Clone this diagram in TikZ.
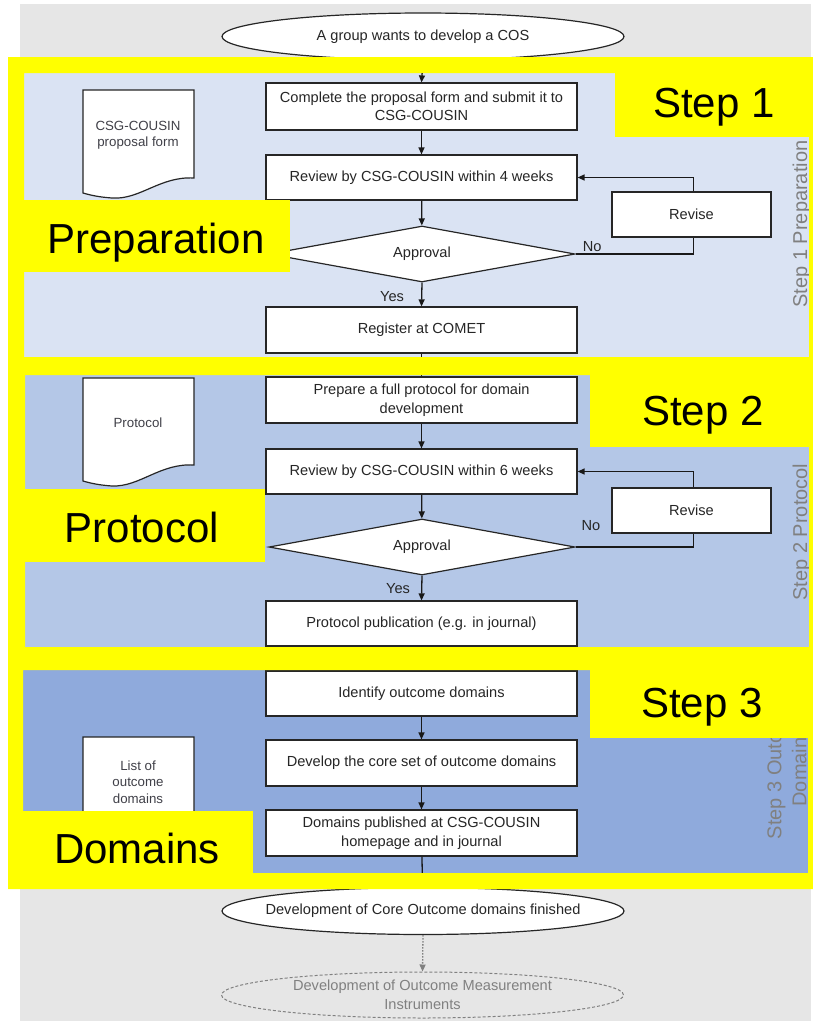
\documentclass[tikz,border=0pt]{standalone}
\usepackage{fontspec}
\setmainfont{Liberation Sans}
\usetikzlibrary{shapes.geometric,arrows.meta}
\definecolor{bgGray}{HTML}{E6E6E6}
\definecolor{panelA}{HTML}{DAE3F3}
\definecolor{panelB}{HTML}{B4C7E7}
\definecolor{panelC}{HTML}{8FAADC}
\definecolor{hl}{HTML}{FFFF00}
\definecolor{txtDark}{HTML}{262626}
\definecolor{docTxt}{HTML}{404048}
\definecolor{sideTxt}{HTML}{808080}
\newcommand{\bxfnt}{\fontsize{14.6}{18.5}\selectfont}
\begin{document}
\begin{tikzpicture}[x=1pt,y=-1pt,
  every node/.style={inner sep=0pt},
  procbox/.style={draw=black!85, line width=1.2pt, fill=white, minimum width=311pt, minimum height=46pt, align=center, font=\bxfnt, text=txtDark},
  decision/.style={diamond, aspect=5.46, draw=black!85, line width=1.2pt, fill=white, minimum width=306pt, minimum height=56pt, font=\bxfnt, text=txtDark},
  terminal/.style={ellipse, draw=black!85, line width=1.2pt, fill=white, minimum width=402pt, minimum height=47pt, align=center, font=\bxfnt, text=txtDark},
  future/.style={ellipse, draw=sideTxt, line width=1pt, dash pattern=on 3pt off 2pt, minimum width=402pt, minimum height=46pt, align=center, font=\bxfnt, text=sideTxt},
  docshape/.style={draw=black!85, line width=1.2pt, fill=white},
  doctext/.style={font=\fontsize{13.3}{16.3}\selectfont, text=docTxt, align=center},
  arr/.style={line width=1.3pt, draw=black!90, -{Triangle[length=7pt,width=6pt]}},
  loopline/.style={line width=1.3pt, draw=black!90, -{Triangle[length=7pt,width=6pt]}},
  dotarr/.style={line width=1.3pt, draw=sideTxt, dash pattern=on 1.5pt off 1.5pt, -{Triangle[length=7pt,width=6pt]}},
  biglabel/.style={font=\fontsize{42}{48}\selectfont, text=black},
  sidelabel/.style={font=\fontsize{20}{25}\selectfont, text=sideTxt, rotate=90, align=center},
  flowlabel/.style={font=\bxfnt, text=txtDark}
]
\useasboundingbox (0,0) rectangle (813,1021);
% background
\fill[bgGray] (20,4) rectangle (811,1021);
% panels
\fill[panelA] (24,73) rectangle (809,357);
\fill[panelB] (25,375) rectangle (809,647);
\fill[panelC] (23,670) rectangle (808,873);

% side labels (partly hidden)
\node[sidelabel, anchor=base] (side1) at (807,224) {Step 1 Preparation};
\node[sidelabel, anchor=base] (side2) at (807,532) {Step 2 Protocol};
\node[sidelabel] (side3) at (787,767) {Step 3 Outcome\\Domains};

% documents
\path[docshape] (83,90) -- (194,90) -- (194,178) .. controls (160,176) and (140,200) .. (112,198) .. controls (98,197) and (90,195) .. (83,193) -- cycle;
\node[doctext] (doc1) at (138,135.5) {CSG-COUSIN\\proposal form};
\path[docshape] (83,378) -- (194,378) -- (194,465) .. controls (160,463) and (140,487) .. (112,486) .. controls (98,485) and (90,483) .. (83,481) -- cycle;
\node[doctext] (doc2) at (138,423) {Protocol};
\path[docshape] (83,737) -- (194,737) -- (194,825) .. controls (160,823) and (140,847) .. (112,846) .. controls (98,845) and (90,843) .. (83,841) -- cycle;
\node[doctext] (doc3) at (138,782) {List of\\outcome\\domains};

% flow nodes
\node[terminal] (e1) at (423,36.5) {A group wants to develop a COS};
\node[procbox, minimum height=47pt] (b1) at (421.5,106.5) {Complete the proposal form and submit it to\\CSG-COUSIN};
\node[procbox, minimum height=45pt] (b2) at (421.5,177.5) {Review by CSG-COUSIN within 4 weeks};
\node[decision] (d1) at (422,254) {Approval};
\node[procbox] (b3) at (421.5,330) {Register at COMET};
\node[procbox] (b4) at (421.5,400) {Prepare a full protocol for domain\\development};
\node[procbox, minimum height=45pt] (b5) at (421.5,471.5) {Review by CSG-COUSIN within 6 weeks};
\node[decision] (d2) at (422,547) {Approval};
\node[procbox, minimum height=45pt] (b6) at (421.5,623.5) {Protocol publication (e.g. in journal)};
\node[procbox, minimum height=45pt] (b7) at (421.5,693.5) {Identify outcome domains};
\node[procbox] (b8) at (421.5,763) {Develop the core set of outcome domains};
\node[procbox] (b9) at (421.5,833) {Domains published at CSG-COUSIN\\homepage and in journal};
\node[terminal, inner xsep=-18pt] (e2) at (423,911) {Development of Core Outcome domains finished};
\node[future] (e3) at (422.5,995) {Development of Outcome Measurement\\Instruments};

% connectors
\draw[arr] (e1.south) -- (b1.north);
\draw[arr] (b1) -- (b2);
\draw[arr] (b2) -- (d1);
\draw[arr] (d1.south) -- (b3.north);
\draw[arr] (b3) -- (b4);
\draw[arr] (b4) -- (b5);
\draw[arr] (b5) -- (d2);
\draw[arr] (d2.south) -- (b6.north);
\draw[arr] (b6) -- (b7);
\draw[arr] (b7) -- (b8);
\draw[arr] (b8) -- (b9);
\draw[arr] (b9) -- (e2);
\draw[dotarr] (e2.south) -- (e3.north);
\draw[loopline] (d1.east) -- node[flowlabel, pos=0.14, above=2pt] {No} ++(118,0) |- (b2.east);
\draw[loopline] (d2.east) -- node[flowlabel, pos=0.13, above=16pt] {No} ++(118,0) |- (b5.east);
\node[flowlabel] (yes1) at (392,297) {Yes};
\node[flowlabel] (yes2) at (398,589) {Yes};

% revise boxes on top of loops
\node[procbox, minimum width=159pt, minimum height=45pt] (r1) at (691.5,214.5) {Revise};
\node[procbox, minimum width=159pt, minimum height=45pt] (r2) at (691.5,510.5) {Revise};

% yellow highlight frame
\fill[hl, even odd rule] (8,57) rectangle (813,889) (24,73) rectangle (809,357) (25,375) rectangle (809,647) (23,670) rectangle (808,873);
% yellow label boxes
\fill[hl] (615,73) rectangle (813,137);
\node[biglabel, anchor=base] (s1) at (714,117) {Step 1};
\fill[hl] (24,200) rectangle (290,272);
\node[biglabel, anchor=base] (l1) at (156,253) {Preparation};
\fill[hl] (590,375) rectangle (813,447);
\node[biglabel, anchor=base] (s2) at (703,425) {Step 2};
\fill[hl] (25,489) rectangle (265,562);
\node[biglabel, anchor=base] (l2) at (142,542) {Protocol};
\fill[hl] (590,660) rectangle (813,738);
\node[biglabel, anchor=base] (s3) at (702,717) {Step 3};
\fill[hl] (23,811) rectangle (253,889);
\node[biglabel, anchor=base] (l3) at (137,863) {Domains};
\end{tikzpicture}
\end{document}
